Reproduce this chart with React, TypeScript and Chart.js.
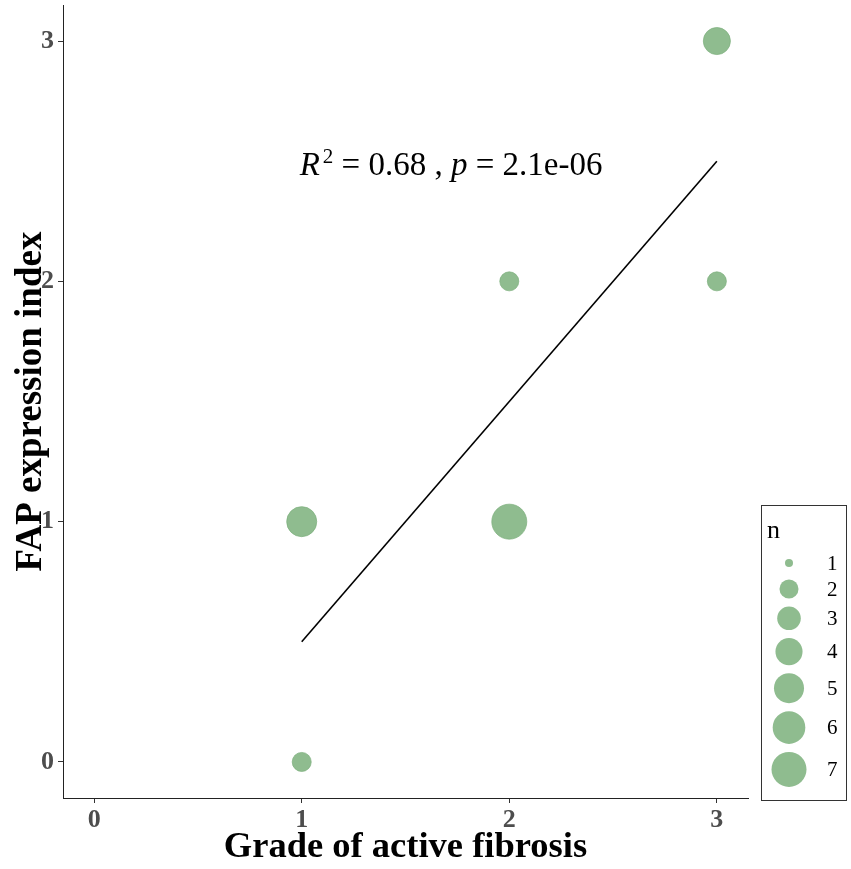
import React, { useEffect, useRef } from "react";
import Chart from "chart.js/auto";

// observations grouped by (grade, index), n = number of cases at that spot
const gradeX = [1, 1, 2, 2, 3, 3];
const fapY = [0, 1, 1, 2, 2, 3];
const counts = [2, 5, 7, 2, 2, 4];

// fitted line ends
const fitX = [1, 3];
const fitY = [0.5, 2.5];

const tickValues = [0, 1, 2, 3];
const legendCounts = [1, 2, 3, 4, 5, 6, 7];

const xTitle = "Grade of active fibrosis";
const yTitle = "FAP expression index";
const statR2 = "0.68";
const statP = "2.1e-06";

const GREEN = "#8fbc8f";
const SERIF = "'Liberation Serif', 'Times New Roman', serif";

// ggplot-like area scale: radius grows with sqrt of n
const radiusFor = (n: number) => 4 + 13.5 * Math.sqrt((n - 1) / 6);

const overlay = {
  id: "overlay",
  afterDraw(chart: any) {
    const { ctx, scales, chartArea } = chart;

    // stat label
    ctx.save();
    ctx.fillStyle = "#000";
    ctx.textBaseline = "alphabetic";
    let x = scales.x.getPixelForValue(1) - 2;
    const base = scales.y.getPixelForValue(2.5) + 13.5;
    const parts: [string, string, number][] = [
      ["R", `italic 33px ${SERIF}`, 0],
      ["2", `21px ${SERIF}`, -12],
      [" = " + statR2 + " , ", `33px ${SERIF}`, 0],
      ["p", `italic 33px ${SERIF}`, 0],
      [" = " + statP, `33px ${SERIF}`, 0],
    ];
    for (const [t, f, dy] of parts) {
      ctx.font = f;
      ctx.fillText(t, x, base + dy);
      x += ctx.measureText(t).width + (t === "R" ? 3 : 0);
    }
    ctx.restore();

    // size legend
    const left = chartArea.right + 13;
    const top = 505;
    const w = 85;
    const h = 295;
    ctx.save();
    ctx.strokeStyle = "#333";
    ctx.lineWidth = 1;
    ctx.strokeRect(left + 0.5, top + 0.5, w, h);
    ctx.fillStyle = "#000";
    ctx.font = `26px ${SERIF}`;
    ctx.textBaseline = "alphabetic";
    ctx.fillText("n", left + 6, top + 33);

    let cy = 563;
    let prevD = 0;
    legendCounts.forEach((n, i) => {
      const r = radiusFor(n);
      const d = Math.max(2 * r, 17);
      if (i > 0) cy += (prevD + d) / 2 + 8;
      prevD = d;
      ctx.beginPath();
      ctx.arc(left + 28, cy, r, 0, Math.PI * 2);
      ctx.fillStyle = GREEN;
      ctx.fill();
      ctx.fillStyle = "#000";
      ctx.font = `21px ${SERIF}`;
      ctx.textBaseline = "middle";
      ctx.textAlign = "left";
      ctx.fillText(String(n), left + 66, cy + 1);
    });
    ctx.restore();
  },
};

export default function App() {
  const canvasRef = useRef<HTMLCanvasElement | null>(null);
  const chartRef = useRef<Chart | null>(null);

  useEffect(() => {
    document.body.style.margin = "0";
    if (!canvasRef.current) return;
    const ctx = canvasRef.current.getContext("2d");
    if (!ctx) return;

    const points = gradeX.map((g, i) => ({ x: g, y: fapY[i], n: counts[i] }));
    const fit = fitX.map((g, i) => ({ x: g, y: fitY[i] }));

    const tickFont = { family: SERIF, size: 26, weight: "bold" as const };

    chartRef.current = new Chart(ctx, {
      type: "scatter",
      data: {
        datasets: [
          {
            data: points,
            backgroundColor: GREEN,
            borderColor: "rgba(125,175,125,0.9)",
            borderWidth: 0.8,
            pointRadius: (c: any) => radiusFor(c.raw?.n ?? 1),
            pointHoverRadius: (c: any) => radiusFor(c.raw?.n ?? 1),
          },
          {
            data: fit,
            showLine: true,
            borderColor: "#000",
            borderWidth: 1.6,
            pointRadius: 0,
            pointHoverRadius: 0,
          },
        ],
      },
      options: {
        responsive: false,
        animation: false,
        events: [],
        layout: {
          autoPadding: false,
          padding: { left: 0, right: 103, top: 5, bottom: 0 },
        },
        plugins: { legend: { display: false }, tooltip: { enabled: false } },
        scales: {
          x: {
            type: "linear",
            min: -0.15,
            max: 3.15,
            afterBuildTicks: (s: any) => {
              s.ticks = tickValues.map((v) => ({ value: v }));
            },
            afterFit: (s: any) => {
              s.height = 71;
              s.paddingLeft = 0;
              s.paddingRight = 0;
            },
            border: { color: "#222", width: 1 },
            grid: { drawOnChartArea: false, tickLength: 5, color: "#333" },
            ticks: { font: tickFont, color: "#4d4d4d", padding: 2 },
            title: {
              display: true,
              text: xTitle,
              font: { family: SERIF, size: 36.5, weight: "bold" },
              color: "#000",
              padding: { top: 0, bottom: 0 },
            },
          },
          y: {
            type: "linear",
            min: -0.15,
            max: 3.15,
            afterBuildTicks: (s: any) => {
              s.ticks = tickValues.map((v) => ({ value: v }));
            },
            afterFit: (s: any) => {
              s.width = 63;
              s.paddingTop = 0;
              s.paddingBottom = 0;
            },
            border: { color: "#222", width: 1 },
            grid: { drawOnChartArea: false, tickLength: 5, color: "#333" },
            ticks: { font: tickFont, color: "#4d4d4d", padding: 4 },
            title: {
              display: true,
              text: yTitle,
              font: { family: SERIF, size: 37, weight: "bold" },
              color: "#000",
              padding: { top: 9, bottom: 0 },
            },
          },
        },
      },
      plugins: [overlay],
    });

    return () => {
      if (chartRef.current) {
        chartRef.current.destroy();
        chartRef.current = null;
      }
    };
  }, []);

  return (
    <div style={{ width: 851, height: 869, background: "#fff" }}>
      <canvas ref={canvasRef} width={851} height={869} />
    </div>
  );
}
